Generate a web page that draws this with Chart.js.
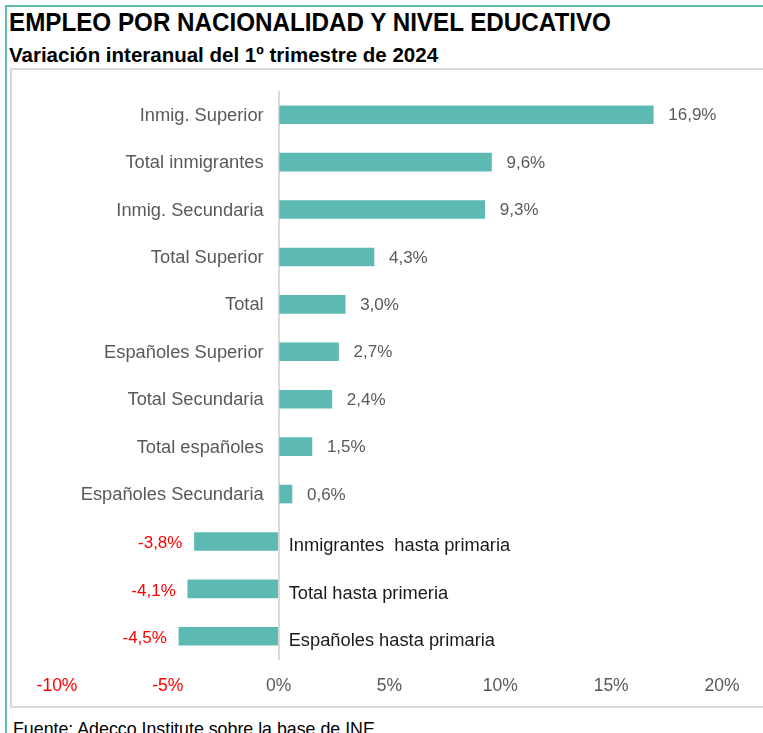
<!DOCTYPE html>
<html>
<head>
<meta charset="utf-8">
<script src="https://cdn.jsdelivr.net/npm/chart.js@4"></script>
<style>
  body { margin: 0; background: #fff; width: 763px; height: 733px; overflow: hidden; position: relative; font-family: "Liberation Sans", Arial, sans-serif; }
  #title { position: absolute; left: 9px; top: 8px; font-size: 25px; font-weight: bold; color: #000; white-space: nowrap; transform: scaleX(0.968); transform-origin: left top; }
  #subtitle { position: absolute; left: 9px; top: 43px; font-size: 20.5px; font-weight: bold; color: #000; white-space: nowrap; }
  #footer { position: absolute; left: 13px; top: 719px; font-size: 17.8px; color: #000; white-space: nowrap; }
  #tealTop { position: absolute; left: 5px; top: 5px; width: 758px; height: 2px; background: #5dbab3; }
  #tealLeft { position: absolute; left: 5px; top: 5px; width: 2px; height: 728px; background: #5dbab3; }
  #frame { position: absolute; left: 10px; top: 68px; width: 770px; height: 636px; border: 2px solid #d9d9d9; }
  #c { position: absolute; left: 0; top: 0; }
</style>
</head>
<body>
<div id="tealTop"></div>
<div id="tealLeft"></div>
<div id="frame"></div>
<div id="title">EMPLEO POR NACIONALIDAD Y NIVEL EDUCATIVO</div>
<div id="subtitle">Variación interanual del 1º trimestre de 2024</div>
<div id="footer">Fuente: Adecco Institute sobre la base de INE</div>
<canvas id="c" width="763" height="733"></canvas>
<script>
const categories = [
  'Inmig. Superior',
  'Total inmigrantes',
  'Inmig. Secundaria',
  'Total Superior',
  'Total',
  'Españoles Superior',
  'Total Secundaria',
  'Total españoles',
  'Españoles Secundaria',
  'Inmigrantes  hasta primaria',
  'Total hasta primeria',
  'Españoles hasta primaria'
];
const values = [16.9, 9.6, 9.3, 4.3, 3.0, 2.7, 2.4, 1.5, 0.6, -3.8, -4.1, -4.5];
const axisMin = -10;
const axisMax = 20;
const axisStep = 5;

const nameFont = '18.3px "Liberation Sans", Arial, sans-serif';
const valueFont = '17px "Liberation Sans", Arial, sans-serif';

// category names and values drawn beside the bars
const barLabels = {
  id: 'barLabels',
  afterDatasetsDraw(chart) {
    const ctx = chart.ctx;
    const x0 = chart.scales.x.getPixelForValue(0);
    const bars = chart.getDatasetMeta(0).data;
    ctx.save();
    ctx.textBaseline = 'middle';
    bars.forEach((bar, i) => {
      const v = values[i];
      const txt = v.toFixed(1).replace('.', ',') + '%';
      const y = bar.y + 1;
      if (v >= 0) {
        ctx.font = nameFont;
        ctx.fillStyle = '#595959';
        ctx.textAlign = 'right';
        ctx.fillText(categories[i], x0 - 15, y);
        ctx.font = valueFont;
        ctx.textAlign = 'left';
        ctx.fillText(txt, bar.x + 15, y);
      } else {
        ctx.font = nameFont;
        ctx.fillStyle = '#1a1a1a';
        ctx.textAlign = 'left';
        ctx.fillText(categories[i], x0 + 10, y + 4);
        ctx.font = valueFont;
        ctx.fillStyle = '#ff0000';
        ctx.textAlign = 'right';
        ctx.fillText(txt, bar.x - 12, y + 1);
      }
    });
    ctx.restore();
  }
};

new Chart(document.getElementById('c'), {
  type: 'bar',
  data: {
    labels: categories,
    datasets: [{
      data: values,
      backgroundColor: '#5dbab3',
      borderWidth: 0,
      barThickness: 18
    }]
  },
  options: {
    indexAxis: 'y',
    responsive: false,
    animation: false,
    layout: { padding: { left: 57, right: 41, top: 91, bottom: 23 } },
    plugins: { legend: { display: false }, tooltip: { enabled: false } },
    scales: {
      y: { display: false },
      x: {
        min: axisMin,
        max: axisMax,
        border: { display: false },
        grid: {
          drawTicks: false,
          lineWidth: 2,
          color: c => c.tick && c.tick.value === 0 ? '#d9d9d9' : 'rgba(0,0,0,0)'
        },
        afterFit(scale) { scale.height = 50; },
        ticks: {
          stepSize: axisStep,
          padding: 16,
          font: { family: '"Liberation Sans", Arial, sans-serif', size: 17.5 },
          color: c => c.tick.value < 0 ? '#ff0000' : '#595959',
          callback: v => v + '%'
        }
      }
    }
  },
  plugins: [barLabels]
});
</script>
</body>
</html>
